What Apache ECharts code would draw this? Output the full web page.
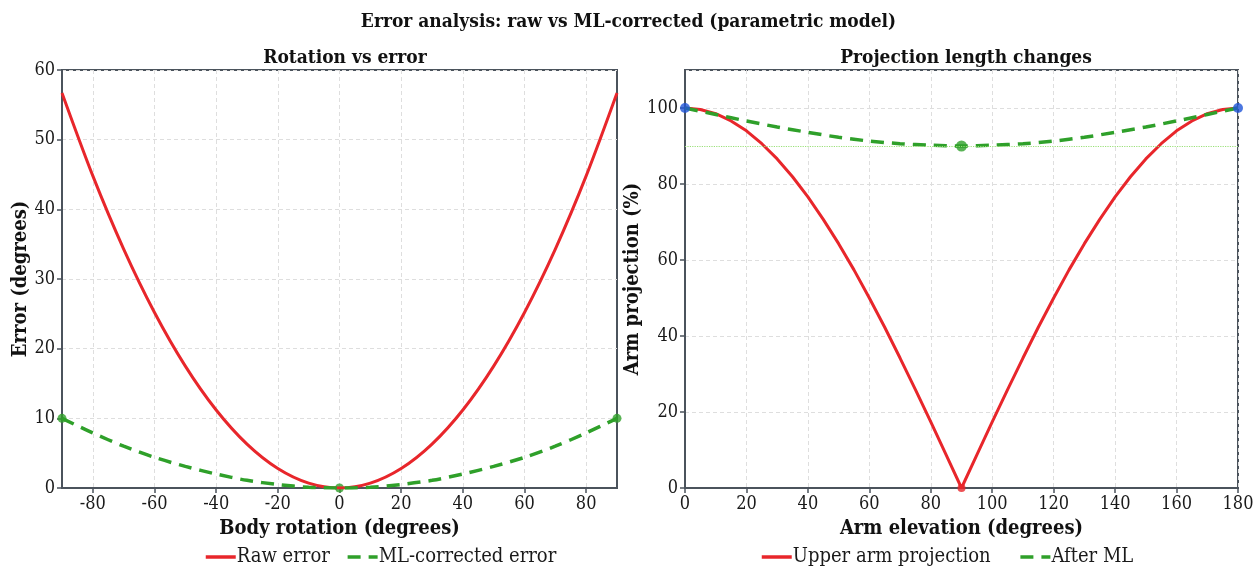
<!DOCTYPE html>
<html>
<head>
<meta charset="utf-8">
<script src="https://cdn.jsdelivr.net/npm/echarts@6/dist/echarts.min.js"></script>
<style>
  html, body { margin: 0; padding: 0; background: #fff; }
  #main { width: 1257px; height: 567px; }
</style>
</head>
<body>
<div id="main"></div>
<script>
// left panel: rotation vs error
var rotX = [-90, -80, -70, -60, -50, -40, -30, -20, -10, 0, 10, 20, 30, 40, 50, 60, 70, 80, 90];
var rawErr = [56.7, 44.8, 34.3, 25.2, 17.5, 11.2, 6.3, 2.8, 0.7, 0, 0.7, 2.8, 6.3, 11.2, 17.5, 25.2, 34.3, 44.8, 56.7];
var mlErr = [10, 7.9, 6.0, 4.4, 3.1, 2.0, 1.1, 0.5, 0.1, 0, 0.1, 0.5, 1.1, 2.0, 3.1, 4.4, 6.0, 7.9, 10];
var rotTicks = [-80, -60, -40, -20, 0, 20, 40, 60, 80];
var mlDotsX = [-90, 0, 90];
var mlDotsY = [10, 0, 10];

// right panel: projection length
var elevX = [0, 5, 10, 15, 20, 25, 30, 35, 40, 45, 50, 55, 60, 65, 70, 75, 80, 85, 90,
             95, 100, 105, 110, 115, 120, 125, 130, 135, 140, 145, 150, 155, 160, 165, 170, 175, 180];
var armProj = [100, 99.6, 98.5, 96.6, 94, 90.6, 86.6, 81.9, 76.6, 70.7, 64.3, 57.4, 50, 42.3, 34.2, 25.9, 17.4, 8.7, 0,
               8.7, 17.4, 25.9, 34.2, 42.3, 50, 57.4, 64.3, 70.7, 76.6, 81.9, 86.6, 90.6, 94, 96.6, 98.5, 99.6, 100];
var afterX = [0, 10, 20, 30, 40, 50, 60, 70, 80, 90, 100, 110, 120, 130, 140, 150, 160, 170, 180];
var afterMl = [100, 98.3, 96.6, 95, 93.6, 92.3, 91.3, 90.6, 90.2, 90, 90.2, 90.6, 91.3, 92.3, 93.6, 95, 96.6, 98.3, 100];
var endDotsX = [0, 180];
var endDotsY = [100, 100];

var FONT = '"DejaVu Serif Condensed", "DejaVu Serif", serif';
var RED = '#e8262b', GREEN = '#2fa02a', BLUE = '#1f55d8', EDGE = '#4b535c';

function pairs(xs, ys) {
    return xs.map(function (x, i) { return [x, ys[i]]; });
}

var chart = echarts.init(document.getElementById('main'));

var axisCommon = {
    axisLine: { show: true, onZero: false, lineStyle: { color: EDGE, width: 2 } },
    axisTick: { show: true, length: 5, lineStyle: { color: EDGE, width: 1.5 } },
    axisLabel: { color: '#1a1a1a', fontFamily: FONT, fontSize: 18, margin: 7 },
    splitLine: { show: true, lineStyle: { color: '#dedede', type: [4, 3], width: 1 } },
    nameLocation: 'middle',
    nameTextStyle: { color: '#111', fontFamily: FONT, fontSize: 20, fontWeight: 'bold' }
};

function ax(extra) {
    return echarts.util.merge(echarts.util.clone(axisCommon), extra, true);
}

var legendCommon = {
    top: 542, itemWidth: 30, itemHeight: 12,
    itemStyle: { opacity: 0 },
    lineStyle: { width: 3.5 },
    textStyle: { fontFamily: FONT, fontSize: 20, color: '#1a1a1a', padding: [0, 0, 0, -4] }
};

var option = {
    backgroundColor: '#fff',
    animation: false,
    title: [
        { text: 'Error analysis: raw vs ML-corrected (parametric model)', left: 'center', top: 8,
          textStyle: { fontFamily: FONT, fontSize: 19, fontWeight: 'bold', color: '#111' } },
        { text: 'Rotation vs error', left: 340, textAlign: 'center', top: 44,
          textStyle: { fontFamily: FONT, fontSize: 19, fontWeight: 'bold', color: '#111' } },
        { text: 'Projection length changes', left: 961, textAlign: 'center', top: 44,
          textStyle: { fontFamily: FONT, fontSize: 19, fontWeight: 'bold', color: '#111' } }
    ],
    legend: [
        echarts.util.merge({ left: 199, itemGap: 16, data: ['Raw error', 'ML-corrected error'] },
                           echarts.util.clone(legendCommon)),
        echarts.util.merge({ left: 755, itemGap: 28, data: ['Upper arm projection', 'After ML'] },
                           echarts.util.clone(legendCommon))
    ],
    grid: [
        { left: 62, right: 640, top: 70, bottom: 79, show: true, borderColor: EDGE, borderWidth: 2 },
        { left: 685, right: 19, top: 70, bottom: 79, show: true, borderColor: EDGE, borderWidth: 2 }
    ],
    xAxis: [
        ax({ type: 'value', gridIndex: 0, min: -90, max: 90,
             name: 'Body rotation (degrees)', nameGap: 31,
             axisTick: { customValues: rotTicks },
             axisLabel: { customValues: rotTicks } }),
        ax({ type: 'value', gridIndex: 1, min: 0, max: 180, interval: 20,
             name: 'Arm elevation (degrees)', nameGap: 31 })
    ],
    yAxis: [
        ax({ type: 'value', gridIndex: 0, min: 0, max: 60, interval: 10,
             name: 'Error (degrees)', nameGap: 27 }),
        ax({ type: 'value', gridIndex: 1, min: 0, max: 110, interval: 20,
             name: 'Arm projection (%)', nameGap: 30,
             axisLabel: { showMaxLabel: false } })
    ],
    series: [
        { name: 'Raw error', type: 'line', xAxisIndex: 0, yAxisIndex: 0,
          data: pairs(rotX, rawErr), smooth: 0.3, symbol: 'none',
          lineStyle: { color: RED, width: 3 }, itemStyle: { color: RED } },
        { name: 'ML-corrected error', type: 'line', xAxisIndex: 0, yAxisIndex: 0,
          data: pairs(rotX, mlErr), smooth: 0.3, symbol: 'none',
          lineStyle: { color: GREEN, width: 3.5, type: [13, 8] }, itemStyle: { color: GREEN } },
        { name: 'ml dots', type: 'scatter', xAxisIndex: 0, yAxisIndex: 0,
          data: pairs(mlDotsX, mlDotsY), symbolSize: 9, itemStyle: { color: GREEN } },

        { name: 'Upper arm projection', type: 'line', xAxisIndex: 1, yAxisIndex: 1,
          data: pairs(elevX, armProj), smooth: false, symbol: 'none',
          lineStyle: { color: RED, width: 3 }, itemStyle: { color: RED } },
        { name: 'After ML', type: 'line', xAxisIndex: 1, yAxisIndex: 1,
          data: pairs(afterX, afterMl), smooth: 0.3, symbol: 'none', z: 3,
          lineStyle: { color: GREEN, width: 3.5, type: [13, 8] }, itemStyle: { color: GREEN },
          markLine: { silent: true, symbol: 'none', label: { show: false },
                      lineStyle: { color: '#9be07a', type: 'dotted', width: 1.2 },
                      data: [{ yAxis: 90 }] } },
        { name: 'mid dots', type: 'scatter', xAxisIndex: 1, yAxisIndex: 1, z: 4,
          data: [{ value: [90, 90], symbolSize: 11, itemStyle: { color: GREEN } },
                 { value: [90, 0], symbolSize: 8, itemStyle: { color: RED } }] },
        { name: 'end dots', type: 'scatter', xAxisIndex: 1, yAxisIndex: 1, z: 4,
          data: pairs(endDotsX, endDotsY), symbolSize: 10, itemStyle: { color: BLUE } }
    ]
};

chart.setOption(option);
</script>
</body>
</html>
